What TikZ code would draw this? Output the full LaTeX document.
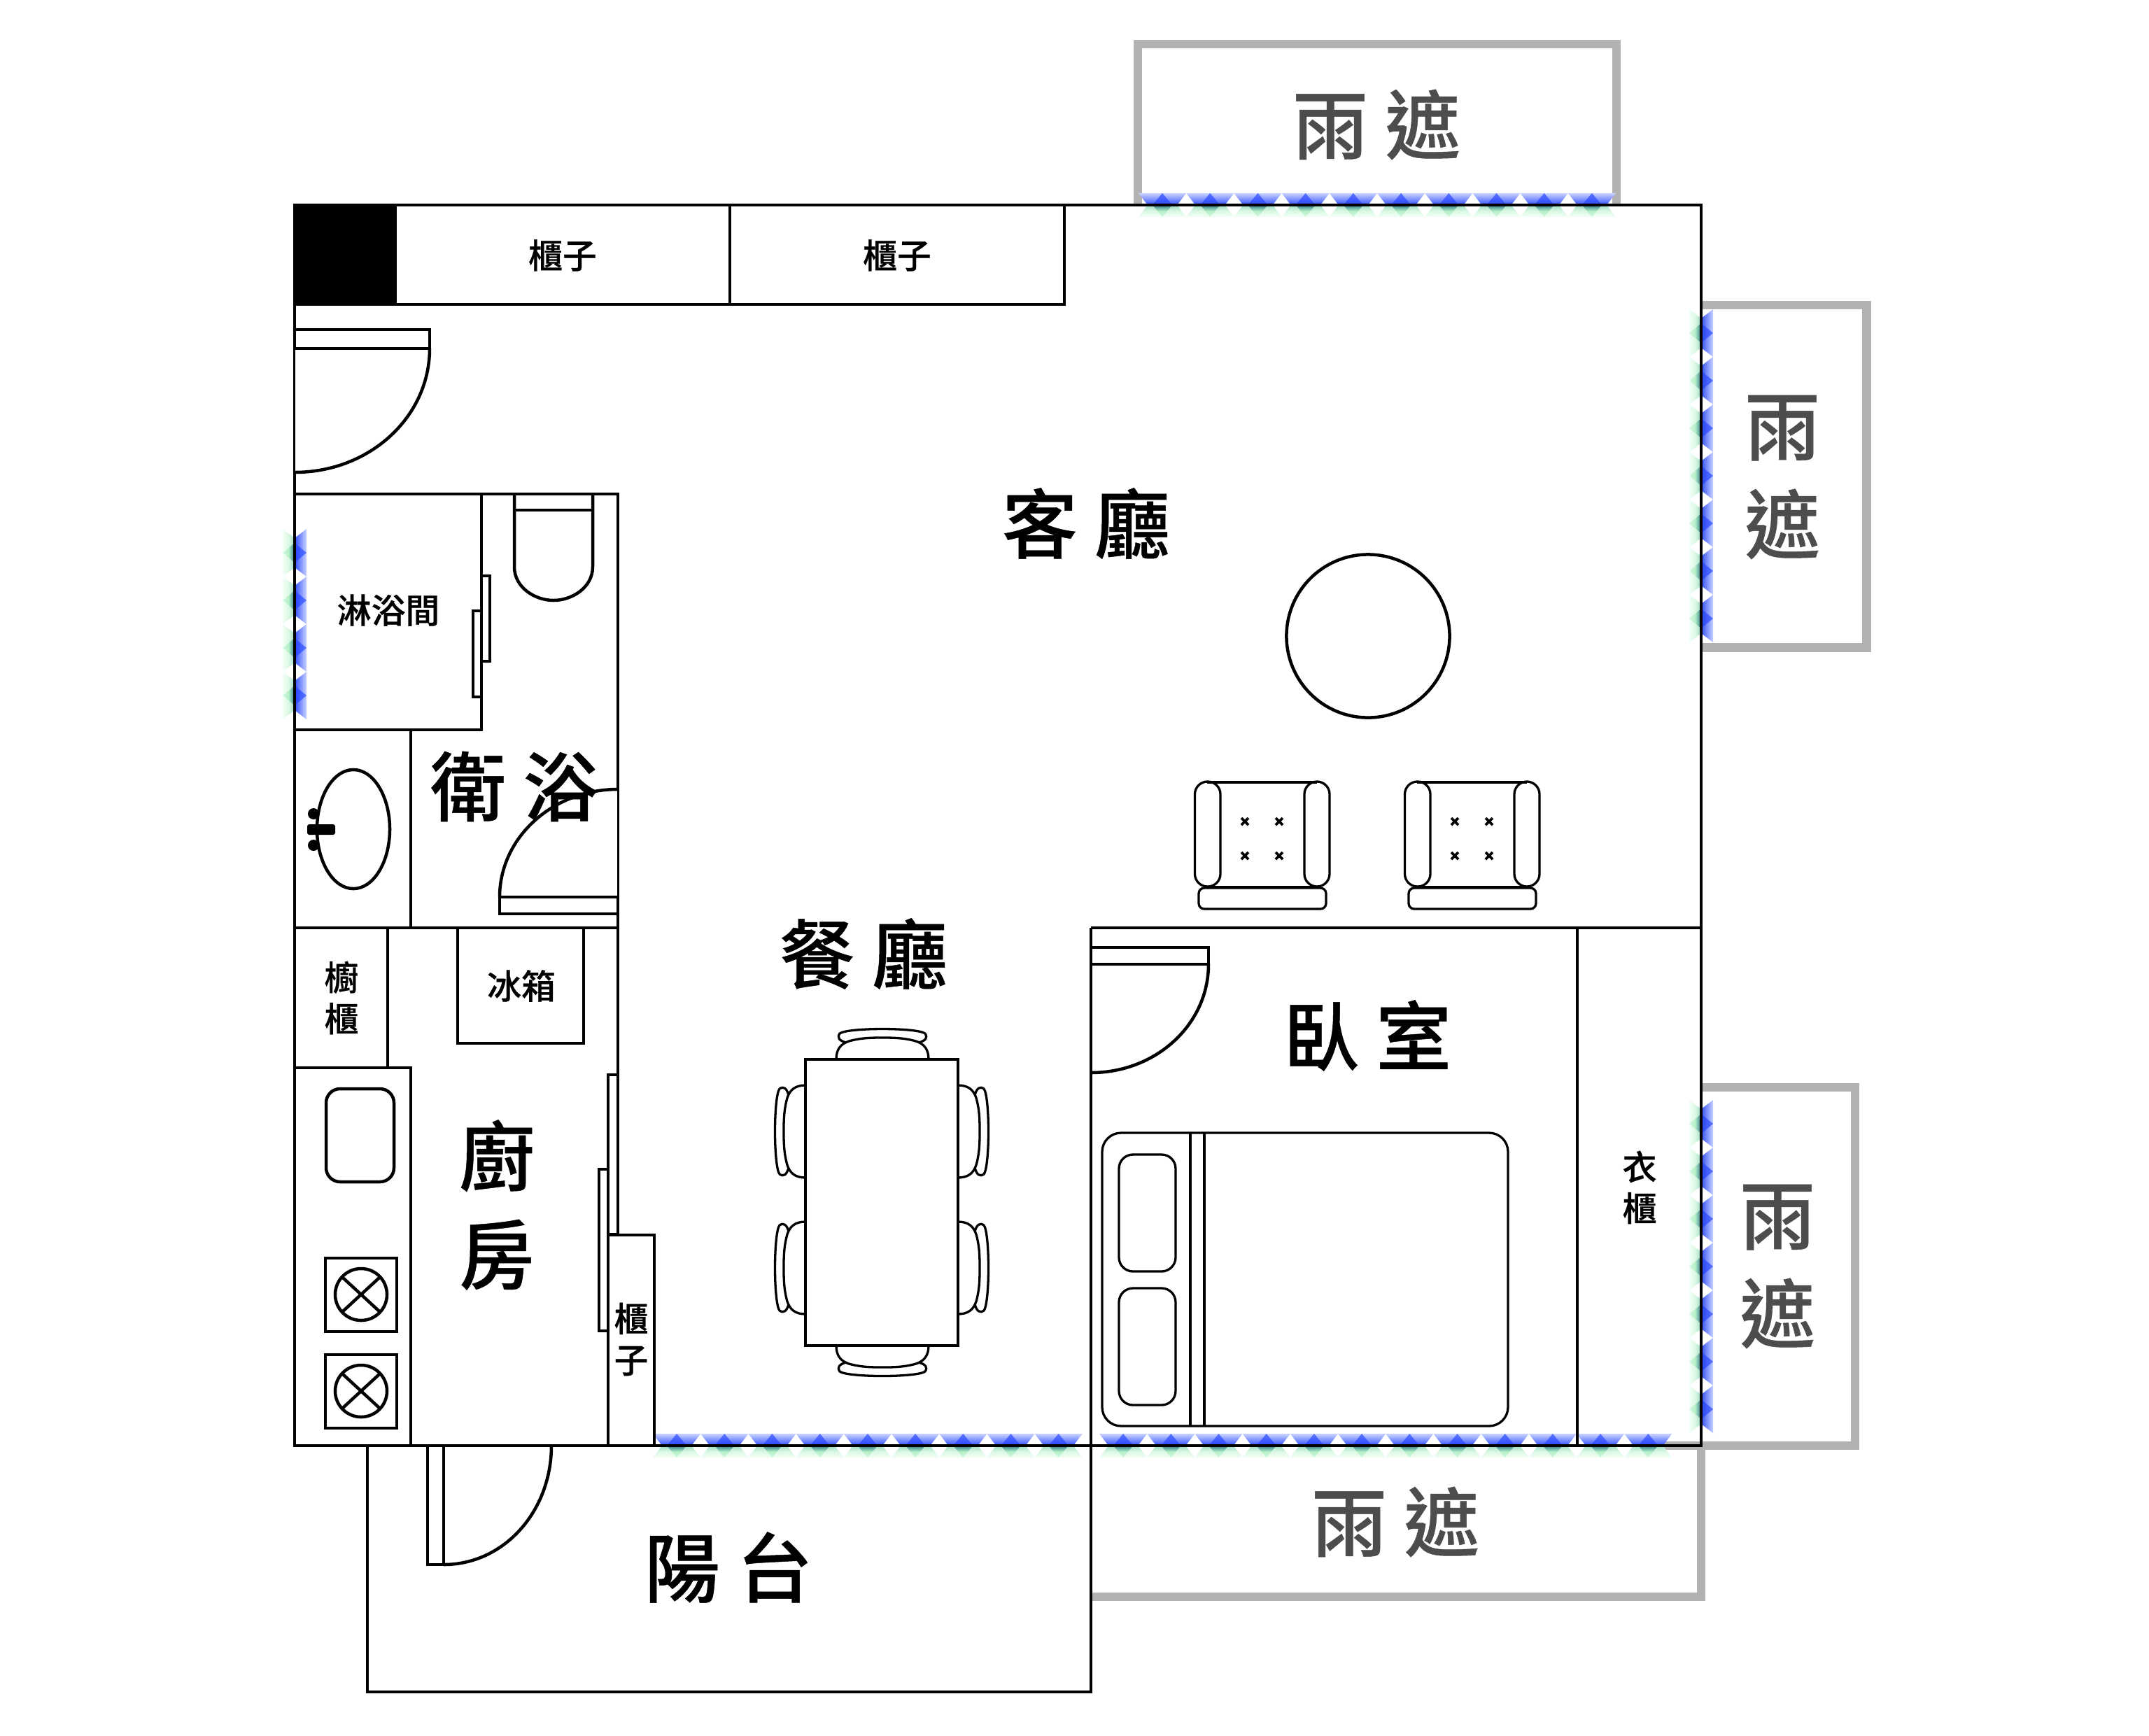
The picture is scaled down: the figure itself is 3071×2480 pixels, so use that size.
\documentclass[tikz,border=0pt]{standalone}
\usepackage{fontspec}
\newfontfamily\cjk[FakeBold=0.45]{Noto Sans CJK TC Medium}
\definecolor{gy}{HTML}{B2B2B2}
\definecolor{gtx}{HTML}{4D4D4D}
\definecolor{bl1}{HTML}{C8D2FF}
\definecolor{bl2}{HTML}{7F92FF}
\definecolor{bl3}{HTML}{3350FF}
\definecolor{bc1}{HTML}{5B74FF}
\definecolor{bc2}{HTML}{2A46FF}
\definecolor{gr1}{HTML}{9ADCC4}
\definecolor{gr2}{HTML}{DCF8E4}
\definecolor{gr3}{HTML}{F2FFF6}
\definecolor{gc1}{HTML}{2E7F8A}
\definecolor{gc2}{HTML}{B5EFC8}
\definecolor{gc3}{HTML}{D5FADF}
\tikzset{
  wall/.style={line width=.045cm,draw=black},
  thinl/.style={line width=.033cm,draw=black},
  rain/.style={line width=.125cm,draw=gy,line cap=butt},
  big/.style={inner sep=0pt,align=center,font=\cjk\fontsize{30.7}{40}\selectfont},
  raintext/.style={big,text=gtx},
  small/.style={inner sep=0pt,align=center,font=\cjk\fontsize{13.9}{16.8}\selectfont},
}
\newcommand{\hband}[3]{% ywall, xstart, n
  \foreach \i in {1,...,#3}{
    \pgfmathsetmacro\a{#2+(\i-1)*68.2}
    \pgfmathsetmacro\b{\a+68.2}
    \pgfmathsetmacro\c{\a+34.1}
    \pgfmathsetmacro\d{\a+13}
    \pgfmathsetmacro\e{\a+55.2}
    \pgfmathsetmacro\f{\a+20}
    \pgfmathsetmacro\g{\a+48.2}
    \path[top color=bl1,bottom color=bl3,middle color=bl2] (\a,#1-17) -- (\b,#1-17) -- (\e,#1) -- (\d,#1) -- cycle;
    \path[top color=bc1,bottom color=bc2] (\c,#1-17) -- (\g,#1) -- (\f,#1) -- cycle;
    \path[top color=gr1,bottom color=gr3,middle color=gr2] (\a,#1+17) -- (\b,#1+17) -- (\e,#1) -- (\d,#1) -- cycle;
    \path[top color=gc1,bottom color=gc3,middle color=gc2] (\c,#1+17) -- (\g,#1) -- (\f,#1) -- cycle;
  }
}
\newcommand{\vband}[3]{% xwall, ystart, n
  \foreach \i in {1,...,#3}{
    \pgfmathsetmacro\a{#2+(\i-1)*68}
    \pgfmathsetmacro\b{\a+68}
    \pgfmathsetmacro\c{\a+34}
    \pgfmathsetmacro\d{\a+13}
    \pgfmathsetmacro\e{\a+55}
    \pgfmathsetmacro\f{\a+20}
    \pgfmathsetmacro\g{\a+48}
    \path[right color=bl1,left color=bl3,middle color=bl2] (#1+17,\a) -- (#1+17,\b) -- (#1,\e) -- (#1,\d) -- cycle;
    \path[right color=bc1,left color=bc2] (#1+17,\c) -- (#1,\g) -- (#1,\f) -- cycle;
    \path[left color=gr3,right color=gr1,middle color=gr2] (#1-17,\a) -- (#1-17,\b) -- (#1,\e) -- (#1,\d) -- cycle;
    \path[left color=gc3,right color=gc1,middle color=gc2] (#1-17,\c) -- (#1,\g) -- (#1,\f) -- cycle;
  }
}
\newcommand{\diner}[2]{% position, rotation
  \begin{scope}[shift={#1},rotate=#2]
    \draw[thinl,line join=round] (-66,0) .. controls (-66,-14) and (-60,-22) .. (-48,-26)
      .. controls (-30,-31) and (-15,-31) .. (0,-31)
      .. controls (15,-31) and (30,-31) .. (48,-26)
      .. controls (60,-22) and (66,-14) .. (66,0);
    \draw[thinl,line join=round] (-52,-24) .. controls (-62,-27) and (-65,-31) .. (-61,-37)
      .. controls (-56,-41) and (-30,-43.5) .. (0,-43.5)
      .. controls (30,-43.5) and (56,-41) .. (61,-37)
      .. controls (65,-31) and (62,-27) .. (52,-24);
  \end{scope}
}
\newcommand{\xmark}[2]{%
  \draw[line width=.036cm] (#1-5,#2-5) -- (#1+5,#2+5) (#1-5,#2+5) -- (#1+5,#2-5);
}
\newcommand{\armchair}[1]{%
  \begin{scope}[shift={(#1,0)}]
    \draw[thinl] (1725,1118) -- (1882,1118) (1725,1268) -- (1882,1268);
    \draw[thinl,rounded corners=.18cm] (1707.5,1117) rectangle (1744,1267);
    \draw[thinl,rounded corners=.18cm] (1864,1117) rectangle (1900,1267);
    \draw[thinl,rounded corners=.08cm] (1713,1269) rectangle (1895,1299);
    \xmark{1779}{1174}\xmark{1828}{1174}\xmark{1779}{1223}\xmark{1828}{1223}
  \end{scope}
}
\newcommand{\burner}[2]{% cy, box top
  \draw[wall] (465,#2) rectangle (567,#2+105);
  \draw[wall] (516,#1) circle[radius=.37cm];
  \draw[wall] (490,#1-24) -- (542,#1+24) (490,#1+24) -- (542,#1-24);
}
\begin{document}
\begin{tikzpicture}[x=0.01cm,y=-0.01cm]
\useasboundingbox (0,0) rectangle (3071,2480);
\fill[white] (0,0) rectangle (3071,2480);
% rain shelters
\draw[rain] (1626,293) -- (1626,63) -- (2310,63) -- (2310,293);
\draw[rain] (2431,436) -- (2667.5,436) -- (2667.5,925.5) -- (2431,925.5);
\draw[rain] (2431,1554) -- (2651,1554) -- (2651,2066) -- (2333,2066);
\draw[rain] (2431,2066) -- (2431,2282) -- (1559,2282);
% windows
\hband{293}{1627}{10}
\vband{2431}{442}{7}
\vband{2431}{1572}{7}
\hband{2066}{933}{9}
\hband{2066}{1571}{12}
\vband{421}{756}{4}
% outer wall and cabinets
\draw[wall] (421,293) rectangle (2431,2066);
\fill[black] (419,291) rectangle (565,437);
\draw[wall] (565,293) rectangle (1043,435);
\draw[wall] (1043,293) rectangle (1521,435);
% entry door
\fill[white] (421,498) -- (614,498) .. controls (614,596) and (528,675) .. (421,675) -- cycle;
\draw[line width=.012cm] (421,498) -- (421,675);
\draw[wall] (421,471) rectangle (614,498);
\draw[wall] (614,498) .. controls (614,596) and (528,675) .. (421,675);
% bathroom
\draw[wall] (421,706) -- (883,706) -- (883,1764);
\draw[wall] (688,706) -- (688,1043) -- (421,1043);
\draw[wall] (587,1043) -- (587,1326);
\draw[wall] (421,1326) -- (883,1326);
\draw[wall] (688,823) rectangle (700,945);
\draw[wall] (676,873) rectangle (688,996);
\draw[wall] (735,706) -- (735,810) .. controls (735,840) and (765,858) .. (791,858)
  .. controls (817,858) and (847,840) .. (847,810) -- (847,706);
\draw[wall] (735,729) -- (847,729);
\draw[wall] (505,1185) ellipse[x radius=.52cm,y radius=.85cm];
\fill[black,rounded corners=.03cm] (439,1178) rectangle (479,1193);
\fill[black] (448,1163) circle[radius=.08cm];
\fill[black] (448,1208) circle[radius=.08cm];
\fill[white] (883,1282) -- (714,1282) .. controls (714,1197) and (790,1128) .. (883,1128) -- cycle;
\draw[line width=.012cm] (883,1128) -- (883,1282);
\draw[wall] (714,1282) rectangle (883,1306);
\draw[wall] (714,1282) .. controls (714,1197) and (790,1128) .. (883,1128);
% kitchen
\draw[wall] (554,1326) -- (554,1526);
\draw[wall] (421,1526) -- (587,1526) -- (587,2066);
\draw[wall] (654,1326) -- (654,1491) -- (834,1491) -- (834,1326);
\draw[wall,rounded corners=.2cm] (466,1556) rectangle (563,1689);
\burner{1850}{1798}
\burner{1988}{1936}
\draw[wall] (869,1536) rectangle (883,1764);
\draw[wall] (856,1671) rectangle (869,1902);
\draw[wall] (869,1765) rectangle (935,2066);
% balcony
\draw[wall] (525,2066) -- (525,2418) -- (1559,2418) -- (1559,2066);
\draw[wall] (611,2066) -- (611,2236) -- (634,2236) -- (634,2066);
\draw[wall] (634,2236) .. controls (720,2236) and (788,2160) .. (788,2066);
% dining
\diner{(1261,1514)}{0}
\diner{(1261,1923)}{180}
\diner{(1151,1617)}{90}
\diner{(1151,1812)}{90}
\diner{(1369,1617)}{-90}
\diner{(1369,1812)}{-90}
\draw[wall] (1151,1514) rectangle (1369,1923);
% living
\draw[wall] (1955,909) circle[radius=1.165cm];
\armchair{0}
\armchair{300}
% bedroom
\draw[wall] (1559,1326) -- (2431,1326);
\draw[wall] (1559,1326) -- (1559,2066);
\draw[wall] (2254,1326) -- (2254,2066);
\draw[wall] (1559,1354) -- (1727,1354) -- (1727,1378) -- (1559,1378);
\draw[wall] (1727,1378) .. controls (1727,1464) and (1652,1533) .. (1559,1533);
\draw[thinl,rounded corners=.27cm] (1575,1619) rectangle (2155,2038);
\draw[thinl] (1701,1619) -- (1701,2038) (1721,1619) -- (1721,2038);
\draw[thinl,rounded corners=.2cm] (1599,1650) rectangle (1680,1817);
\draw[thinl,rounded corners=.2cm] (1599,1841) rectangle (1680,2008);
% labels
\node[small] (cab1) at (804,365) {櫃子};
\node[small] (cab2) at (1282,365) {櫃子};
\node[small] (shower) at (555,872) {淋浴間};
\node[small] (pantry) at (488,1426) {櫥\\櫃};
\node[small] (fridge) at (745,1409) {冰箱};
\node[small] (cab3) at (902,1914) {櫃\\子};
\node[small] (ward) at (2343,1697) {衣\\櫃};
\node[big] (living) at (1552,748) {客 廳};
\node[big] (dining) at (1234,1363) {餐 廳};
\node[big] (bath) at (735,1124) {衛 浴};
\node[big] (bed) at (1954,1480) {臥 室};
\node[big] (kit) at (710,1722) {廚\\房};
\node[big] (balc) at (1041,2240) {陽 台};
\node[raintext] (r1) at (1967,178) {雨 遮};
\node[raintext] (r2) at (2547,682) {雨\\遮};
\node[raintext] (r3) at (2540,1810) {雨\\遮};
\node[raintext] (r4) at (1994,2175) {雨 遮};
\end{tikzpicture}
\end{document}
